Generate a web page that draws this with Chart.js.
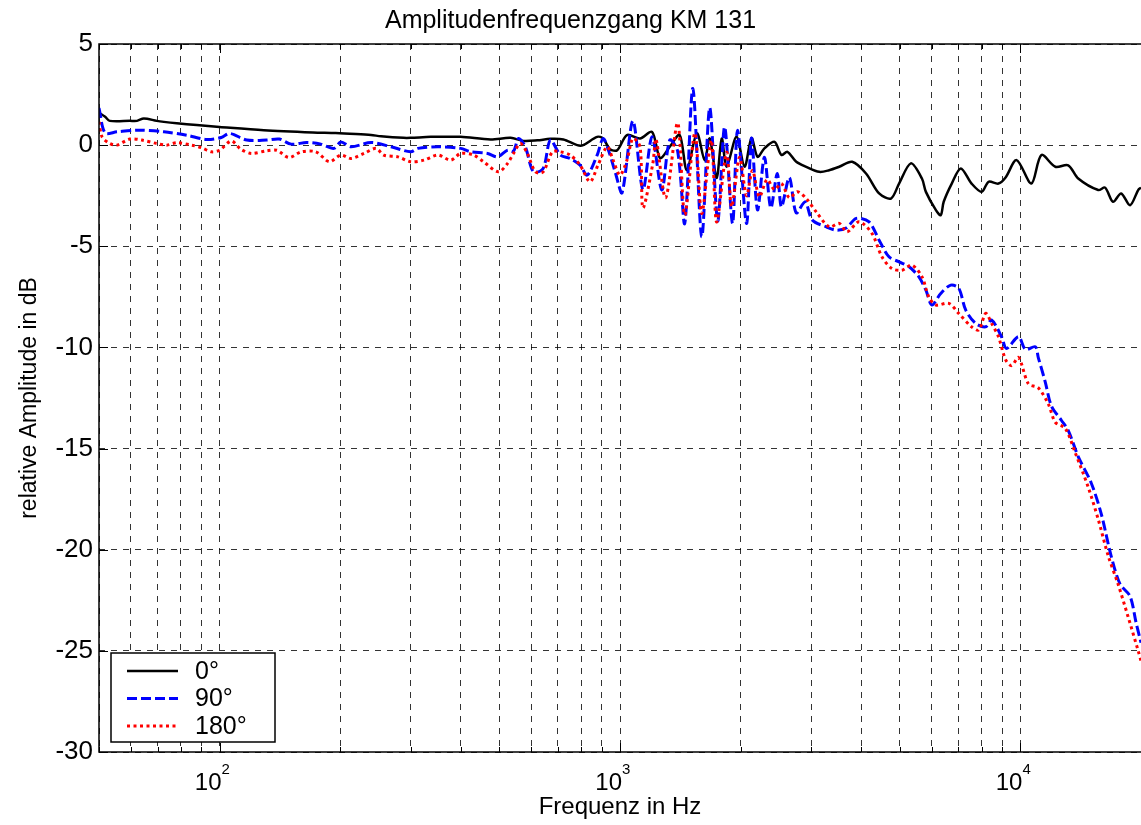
<!DOCTYPE html>
<html>
<head>
<meta charset="utf-8">
<title>Amplitudenfrequenzgang KM 131</title>
<script src="https://cdn.jsdelivr.net/npm/chart.js@4.4.1/dist/chart.umd.min.js"></script>
<style>
  html, body { margin: 0; padding: 0; background: #fff; overflow: hidden; }
  canvas { display: block; }
</style>
</head>
<body>
<canvas id="chart" width="1141" height="825"></canvas>
<script>
// Werte (Frequenz in Hz, Amplitude in dB)

// 0 Grad
const freq0 = [50, 51.8, 53.2, 59.7, 62.2, 64.7, 69.7, 72.6, 78.2, 87.7, 100, 129, 171, 195, 219, 239, 253, 288, 300, 337,
  400, 475, 533, 574, 622, 670, 722, 782, 809, 877, 907, 944, 984, 1041, 1122, 1202, 1259, 1331, 1409, 1468,
  1556, 1627, 1675, 1743, 1795, 1846, 1954, 2047, 2130, 2205, 2294, 2432, 2530, 2618, 2755, 2918, 3145, 3328, 3527, 3800,
  4115, 4437, 4750, 4976, 5324, 5675, 5806, 6150, 6324, 6432, 6737, 7096, 7551, 8004, 8324, 8812, 9180, 9780, 10650, 11280,
  12220, 13160, 13940, 15640, 16270, 17030, 17840, 18780, 19680, 20000];
const amp0 = [1.6, 1.4, 1.2, 1.2, 1.2, 1.32, 1.2, 1.15, 1.08, 0.99, 0.9, 0.74, 0.63, 0.6, 0.55, 0.5, 0.44, 0.36, 0.36, 0.41,
  0.41, 0.28, 0.36, 0.21, 0.24, 0.31, 0.28, 0.0, 0.0, 0.41, 0.33, -0.2, -0.25, 0.5, 0.33, 0.66, -0.64, -0.08, 0.5, -1.24,
  0.58, -0.74, 0.33, -1.63, 0.33, -1.07, 0.41, -1.07, 0.35, -0.58, -0.16, 0.16, -0.49, -0.33, -0.82, -1.07, -1.32, -1.24, -1.07, -0.82,
  -1.4, -2.39, -2.64, -1.9, -0.9, -1.65, -2.31, -3.21, -3.46, -2.8, -1.9, -1.15, -1.9, -2.31, -1.81, -1.9, -1.6, -0.74, -1.9, -0.49,
  -1.07, -1.0, -1.65, -2.22, -2.1, -2.8, -2.39, -2.97, -2.22, -2.1];

// 90 Grad
const freq90 = [50, 51.8, 55.4, 62.2, 72.6, 82.8, 92.8, 101, 106, 117, 131, 141, 151, 165, 179, 193, 201, 213, 239, 268,
  300, 313, 351, 400, 424, 467, 494, 524, 542, 558, 580, 608, 643, 670, 710, 751, 795, 828, 877, 907,
  934, 975, 1012, 1077, 1141, 1202, 1272, 1331, 1393, 1451, 1520, 1600, 1675, 1754, 1825, 1910, 1966, 2070, 2130, 2205,
  2294, 2380, 2470, 2530, 2648, 2755, 2900, 3020, 3275, 3467, 3671, 3890, 4188, 4437, 4696, 4976, 5263, 5572, 5806, 6011,
  6324, 6699, 7015, 7302, 7727, 8188, 8472, 8970, 9230, 9890, 10290, 10890, 11080, 11530, 11950, 12650, 13160, 13940, 15020, 15900,
  16840, 17730, 18780, 19440, 20000];
const amp90 = [1.83, 0.6, 0.66, 0.74, 0.66, 0.49, 0.28, 0.38, 0.58, 0.25, 0.25, 0.3, 0.05, 0.13, 0.05, -0.16, 0.16, -0.08, 0.13, -0.08,
  -0.33, -0.16, -0.08, -0.16, -0.33, -0.41, -0.58, -0.25, -0.3, 0.33, -0.08, -1.32, -1.15, 0.25, -0.49, -0.66, -0.99, -1.48, -0.49, 0.33,
  -0.2, -1.4, -2.35, 1.2, -2.2, 0.41, -2.22, 0.25, -0.3, -3.87, 2.8, -4.53, 1.85, -3.75, 0.9, -3.87, 0.74, -3.87, 0.35, -3.2,
  -0.6, -3.1, -1.4, -3.05, -1.6, -3.35, -2.8, -3.7, -4.04, -4.2, -4.1, -3.62, -3.79, -4.7, -5.52, -5.77, -6.0, -6.5, -7.17, -7.9,
  -7.33, -6.92, -7.08, -8.16, -8.81, -8.98, -8.65, -9.47, -10.05, -9.47, -10.1, -9.97, -10.5, -11.7, -12.9, -13.6, -14.1, -15.4, -16.7, -18.2,
  -20.3, -21.7, -22.3, -23.6, -24.6];

// 180 Grad
const freq180 = [50, 50.9, 53.2, 55.4, 59.7, 64, 69.7, 73.8, 78.2, 85.2, 90.2, 95.5, 100, 107, 113, 120, 131, 139, 149, 160,
  174, 188, 201, 213, 230, 246, 257, 279, 300, 324, 351, 378, 400, 431, 456, 497, 524, 542, 564, 587,
  615, 643, 678, 710, 751, 795, 842, 881, 929, 961, 1000, 1041, 1077, 1122, 1141, 1208, 1230, 1300, 1393, 1451,
  1538, 1600, 1690, 1743, 1846, 1900, 1989, 2070, 2142, 2228, 2330, 2430, 2530, 2648, 2773, 2918, 3090, 3328, 3527, 3690,
  3957, 4259, 4509, 4775, 5058, 5355, 5675, 5902, 6150, 6622, 7015, 7551, 7870, 8188, 8472, 8812, 9180, 9500, 9890, 10470,
  11080, 11740, 12220, 12940, 13700, 14760, 15640, 16560, 17530, 18560, 19680, 20000];
const amp180 = [1.15, 0.41, 0.08, 0.0, 0.3, 0.25, 0.08, 0.0, 0.12, 0.0, -0.13, -0.33, -0.25, 0.2, -0.2, -0.41, -0.28, -0.25, -0.61, -0.33,
  -0.33, -0.82, -0.49, -0.66, -0.4, -0.16, -0.49, -0.58, -0.82, -0.74, -0.49, -0.74, -0.41, -0.49, -0.82, -1.32, -0.9, -0.41, 0.08, -0.41,
  -1.32, -1.32, -0.33, -0.33, -0.49, -0.99, -1.81, -0.99, -0.08, -0.74, -1.48, -0.74, 0.33, -0.08, -3.1, -0.9, 0.3, -2.6, 1.1, -3.45,
  0.6, -3.38, 0.25, -3.8, -0.35, -3.05, -0.6, -2.5, -1.25, -2.55, -1.7, -2.2, -1.9, -2.6, -2.3, -2.64, -3.3, -4.04, -3.87, -4.29,
  -3.79, -4.37, -5.52, -6.1, -6.18, -5.93, -6.5, -7.5, -7.9, -7.82, -8.32, -8.98, -9.14, -8.32, -8.81, -9.47, -10.6, -10.9, -10.5, -11.8,
  -12.0, -12.8, -13.7, -14.0, -15.2, -16.9, -18.5, -20.3, -21.7, -23.3, -25.0, -25.5];

const seriesLabels = ['0°', '90°', '180°'];

// Gitterlinien der x-Achse (logarithmisch, 20 kHz liegt am Bildrand) und beschriftete Dekaden
const xTickValues = [50, 60, 70, 80, 90, 100, 200, 300, 400, 500, 600, 700, 800, 900,
  1000, 2000, 3000, 4000, 5000, 6000, 7000, 8000, 9000, 10000];
const xLabelValues = [100, 1000, 10000];
const xLabelExponents = ['2', '3', '4'];

const FONT = "'Liberation Sans', Arial, Helvetica, sans-serif";

function toPoints(xs, ys) {
  return xs.map((x, i) => ({ x: x, y: ys[i] }));
}

// Rahmen (ohne rechte Kante, die liegt ausserhalb des Bildes) mit Tickmarken innen
const framePlugin = {
  id: 'frame',
  afterDraw(chart) {
    const { ctx, chartArea: a, scales } = chart;
    ctx.save();
    ctx.strokeStyle = '#000';
    ctx.lineWidth = 1.5;
    ctx.beginPath();
    ctx.moveTo(a.right + 2, a.top);
    ctx.lineTo(a.left, a.top);
    ctx.lineTo(a.left, a.bottom);
    ctx.lineTo(a.right + 2, a.bottom);
    ctx.stroke();
    ctx.lineWidth = 1;
    ctx.beginPath();
    xTickValues.forEach(v => {
      const px = Math.round(scales.x.getPixelForValue(v)) + 0.5;
      const len = xLabelValues.includes(v) ? 9 : 5;
      ctx.moveTo(px, a.bottom); ctx.lineTo(px, a.bottom - len);
      ctx.moveTo(px, a.top); ctx.lineTo(px, a.top + len);
    });
    scales.y.ticks.forEach(t => {
      const py = Math.round(scales.y.getPixelForValue(t.value)) + 0.5;
      ctx.moveTo(a.left, py); ctx.lineTo(a.left + 9, py);
    });
    ctx.stroke();

    // Dekaden-Beschriftung 10^n
    ctx.fillStyle = '#000';
    xLabelValues.forEach((v, i) => {
      const px = scales.x.getPixelForValue(v);
      ctx.font = '24px ' + FONT;
      ctx.textAlign = 'right';
      ctx.textBaseline = 'alphabetic';
      ctx.fillText('10', px + 2, 790);
      ctx.font = '15px ' + FONT;
      ctx.textAlign = 'left';
      ctx.fillText(xLabelExponents[i], px + 2, 774);
    });
    ctx.restore();
  }
};

// Legende unten links im Diagramm
const legendBoxPlugin = {
  id: 'legendBox',
  afterDraw(chart) {
    const { ctx, chartArea: a } = chart;
    const x0 = a.left + 12, y0 = a.bottom - 99, w = 164, h = 89;
    ctx.save();
    ctx.fillStyle = '#fff';
    ctx.fillRect(x0, y0, w, h);
    ctx.strokeStyle = '#000';
    ctx.lineWidth = 1.5;
    ctx.strokeRect(x0, y0, w, h);
    chart.data.datasets.forEach((ds, i) => {
      const y = y0 + 18 + i * 27.5;
      ctx.strokeStyle = ds.borderColor;
      ctx.lineWidth = ds.borderWidth;
      ctx.setLineDash(ds.borderDash || []);
      ctx.beginPath();
      ctx.moveTo(x0 + 16, y);
      ctx.lineTo(x0 + 67, y);
      ctx.stroke();
      ctx.setLineDash([]);
      ctx.fillStyle = '#000';
      ctx.font = '25px ' + FONT;
      ctx.textAlign = 'left';
      ctx.textBaseline = 'middle';
      ctx.fillText(ds.label, x0 + 84, y + 1);
    });
    ctx.restore();
  }
};

const ctx = document.getElementById('chart').getContext('2d');
new Chart(ctx, {
  type: 'line',
  data: {
    datasets: [
      {
        label: seriesLabels[0],
        data: toPoints(freq0, amp0),
        borderColor: '#000000',
        borderWidth: 2.5,
        order: 3
      },
      {
        label: seriesLabels[1],
        data: toPoints(freq90, amp90),
        borderColor: '#0000ff',
        borderWidth: 3,
        borderDash: [10, 4],
        order: 2
      },
      {
        label: seriesLabels[2],
        data: toPoints(freq180, amp180),
        borderColor: '#ff0000',
        borderWidth: 3,
        borderDash: [3, 3.5],
        order: 1
      }
    ]
  },
  options: {
    responsive: false,
    animation: false,
    devicePixelRatio: 1,
    layout: { padding: { left: 0, right: 0, top: 1, bottom: 0 } },
    elements: {
      point: { radius: 0 },
      line: { tension: 0.3, fill: false, borderCapStyle: 'butt' }
    },
    plugins: {
      legend: { display: false },
      tooltip: { enabled: false },
      title: {
        display: true,
        text: 'Amplitudenfrequenzgang KM 131',
        color: '#000',
        font: { family: FONT, size: 25, weight: 'normal' },
        padding: { top: 5, bottom: 8 }
      }
    },
    scales: {
      x: {
        type: 'logarithmic',
        min: 50,
        max: 20000,
        afterBuildTicks(scale) {
          scale.ticks = xTickValues.map(v => ({ value: v }));
        },
        afterFit(scale) { scale.height = 73; },
        ticks: { display: false },
        grid: { color: 'rgba(0,0,0,0.8)', lineWidth: 1, drawTicks: false },
        border: { display: false, dash: [6, 6] },
        title: {
          display: true,
          text: 'Frequenz in Hz',
          color: '#000',
          font: { family: FONT, size: 24 },
          padding: { top: 0, bottom: 3 }
        }
      },
      y: {
        min: -30,
        max: 5,
        afterFit(scale) { scale.width = 99; },
        ticks: {
          stepSize: 5,
          color: '#000',
          padding: 6,
          font: { family: FONT, size: 26 }
        },
        grid: { color: 'rgba(0,0,0,0.8)', lineWidth: 1, drawTicks: false },
        border: { display: false, dash: [6, 6] },
        title: {
          display: true,
          text: 'relative Amplitude in dB',
          color: '#000',
          font: { family: FONT, size: 23 },
          padding: { top: 16, bottom: 0 }
        }
      }
    }
  },
  plugins: [framePlugin, legendBoxPlugin]
});
</script>
</body>
</html>
